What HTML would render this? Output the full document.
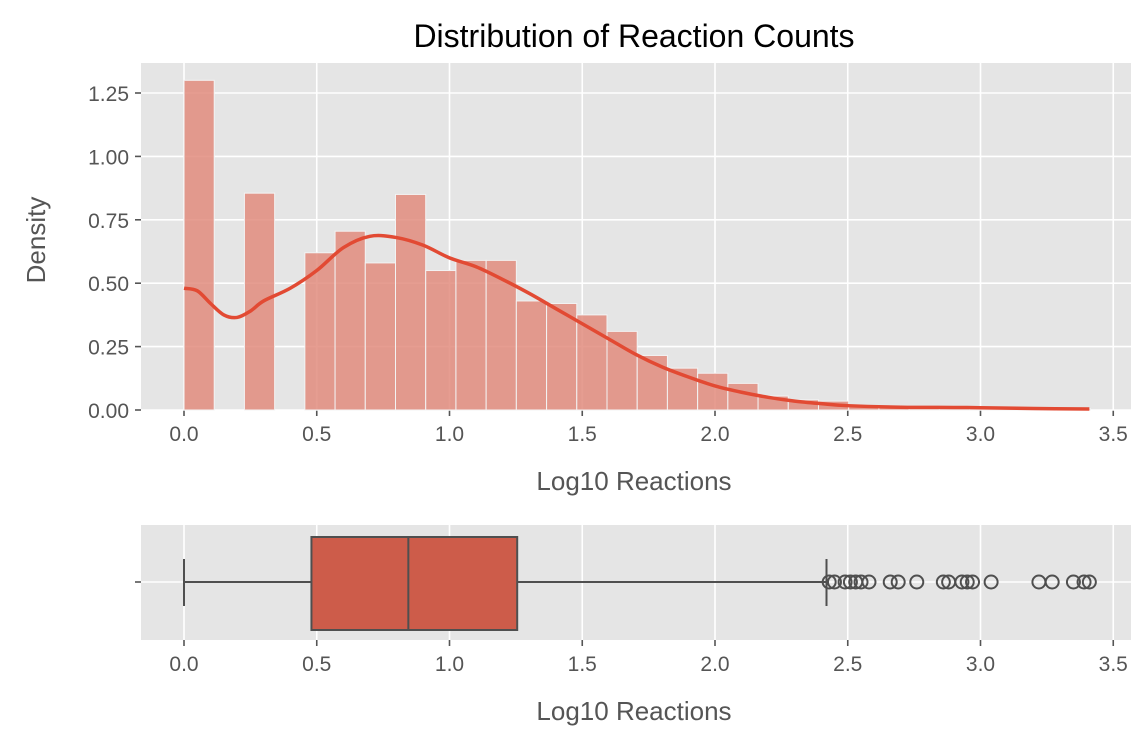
<!DOCTYPE html>
<html><head><meta charset="utf-8"><style>
body{margin:0;background:#fff;}
svg text{font-family:"Liberation Sans","DejaVu Sans",sans-serif;}
</style></head><body>
<svg id="chart" width="1148" height="747" xmlns="http://www.w3.org/2000/svg">
<text x="634" y="47" font-size="32" text-anchor="middle" fill="#000">Distribution of Reaction Counts</text>
<g id="topPanel"></g>
<g id="botPanel"></g>
</svg>
<script>
const binCounts = [1.30,0,0.855,0,0.62,0.705,0.58,0.85,0.55,0.59,0.59,0.43,0.42,0.375,0.31,0.215,0.165,0.145,0.105,0.055,0.04,0.035,0.015,0.01,0.005,0.005,0.005,0.005,0.005,0.005];
const binWidth = 3.414/30;
const kdeX = [0,0.05,0.1,0.15,0.2,0.25,0.3,0.4,0.5,0.6,0.7,0.8,0.9,1.0,1.1,1.2,1.3,1.4,1.5,1.6,1.7,1.8,1.9,2.0,2.1,2.2,2.3,2.4,2.5,2.7,2.9,3.0,3.2,3.41];
const kdeY = [0.48,0.47,0.42,0.375,0.365,0.39,0.43,0.48,0.55,0.64,0.685,0.68,0.65,0.6,0.565,0.515,0.46,0.40,0.34,0.28,0.22,0.17,0.13,0.095,0.07,0.05,0.035,0.025,0.017,0.011,0.01,0.009,0.006,0.004];
const boxStats = [0,0.48,0.845,1.255,2.42];
const outliers = [2.43,2.45,2.49,2.51,2.53,2.55,2.58,2.66,2.69,2.76,2.86,2.88,2.93,2.95,2.97,3.04,3.22,3.27,3.35,3.39,3.41];
const xTicks = ["0.0","0.5","1.0","1.5","2.0","2.5","3.0","3.5"];
const yTicks = ["0.00","0.25","0.50","0.75","1.00","1.25"];
const NS="http://www.w3.org/2000/svg";
const X0=141,X1=1131;
const xs=v=>184+v*265.5;
const ysTop=v=>410-v*253.6;
function mk(p,t,a){const e=document.createElementNS(NS,t);for(const k in a)e.setAttribute(k,a[k]);p.appendChild(e);return e;}
const topG=document.getElementById('topPanel'), botG=document.getElementById('botPanel');
const bg=mk(topG,'rect',{x:X0,y:63,width:X1-X0,height:347,fill:'#e5e5e5'});


function xAxis(g,yTop,yBot){
 xTicks.forEach(t=>{const x=xs(+t);
  mk(g,'line',{x1:x,x2:x,y1:yTop,y2:yBot,stroke:'#fff','stroke-width':1.6});
  mk(g,'line',{x1:x,x2:x,y1:yBot,y2:yBot+6,stroke:'#555','stroke-width':1.6});
  const tx=mk(g,'text',{x:x,y:yBot+31,'font-size':21,'text-anchor':'middle',fill:'#555'});tx.textContent=t;
  
  
 });
}
xAxis(topG,63,410);
yTicks.forEach(t=>{const y=ysTop(+t);
 mk(topG,'line',{x1:X0,x2:X1,y1:y,y2:y,stroke:'#fff','stroke-width':1.6});
 mk(topG,'line',{x1:X0-6,x2:X0,y1:y,y2:y,stroke:'#555','stroke-width':1.6});
 const tx=mk(topG,'text',{x:X0-12,y:y+8,'font-size':21,'text-anchor':'end',fill:'#555'});tx.textContent=t;
 
 
});
binCounts.forEach((c,i)=>{ if(c<=0)return;
 const xa=xs(i*binWidth),xb=xs((i+1)*binWidth);
 const r=mk(topG,'rect',{x:xa,y:ysTop(c),width:xb-xa,height:ysTop(0)-ysTop(c),fill:'#e28c7e','fill-opacity':0.85,stroke:'#f3f3f3','stroke-width':1});
 
 
});
const pts=kdeX.map((x,i)=>[xs(x),ysTop(kdeY[i])]);
let d='M'+pts[0][0]+','+pts[0][1];
for(let i=0;i<pts.length-1;i++){
 const p0=pts[Math.max(0,i-1)],p1=pts[i],p2=pts[i+1],p3=pts[Math.min(pts.length-1,i+2)];
 const c1=[p1[0]+(p2[0]-p0[0])/6,p1[1]+(p2[1]-p0[1])/6];
 const c2=[p2[0]-(p3[0]-p1[0])/6,p2[1]-(p3[1]-p1[1])/6];
 d+='C'+c1+' '+c2+' '+p2;
}
const kp=mk(topG,'path',{d:d,fill:'none',stroke:'#e24a33','stroke-width':3.5,'stroke-linejoin':'round'});


let t1=mk(topG,'text',{x:634,y:490,'font-size':26,'text-anchor':'middle',fill:'#555'});t1.textContent='Log10 Reactions';


let t2=mk(topG,'text',{x:45,y:240,'font-size':26,'text-anchor':'middle',fill:'#555',transform:'rotate(-90 45 240)'});t2.textContent='Density';


const bg2=mk(botG,'rect',{x:X0,y:525,width:X1-X0,height:115,fill:'#e5e5e5'});


xAxis(botG,525,640);
const cy=582;
mk(botG,'line',{x1:X0,x2:X1,y1:cy,y2:cy,stroke:'#fff','stroke-width':1.6});
mk(botG,'line',{x1:X0-6,x2:X0,y1:cy,y2:cy,stroke:'#555','stroke-width':1.6});
const st='#4f4f4f';
mk(botG,'line',{x1:xs(boxStats[0]),x2:xs(boxStats[1]),y1:cy,y2:cy,stroke:st,'stroke-width':2});
mk(botG,'line',{x1:xs(boxStats[3]),x2:xs(boxStats[4]),y1:cy,y2:cy,stroke:st,'stroke-width':2});
mk(botG,'line',{x1:xs(boxStats[0]),x2:xs(boxStats[0]),y1:559,y2:606,stroke:st,'stroke-width':2});
mk(botG,'line',{x1:xs(boxStats[4]),x2:xs(boxStats[4]),y1:559,y2:606,stroke:st,'stroke-width':2});
const bx=mk(botG,'rect',{x:xs(boxStats[1]),y:537,width:xs(boxStats[3])-xs(boxStats[1]),height:93,fill:'#cd5c4a',stroke:st,'stroke-width':2});


mk(botG,'line',{x1:xs(boxStats[2]),x2:xs(boxStats[2]),y1:537,y2:630,stroke:st,'stroke-width':2});
outliers.forEach(o=>{const c=mk(botG,'circle',{cx:xs(o),cy:cy,r:6.5,fill:'none',stroke:st,'stroke-width':2});
 
 
});
let t3=mk(botG,'text',{x:634,y:720,'font-size':26,'text-anchor':'middle',fill:'#555'});t3.textContent='Log10 Reactions';


</script>
</body></html>
